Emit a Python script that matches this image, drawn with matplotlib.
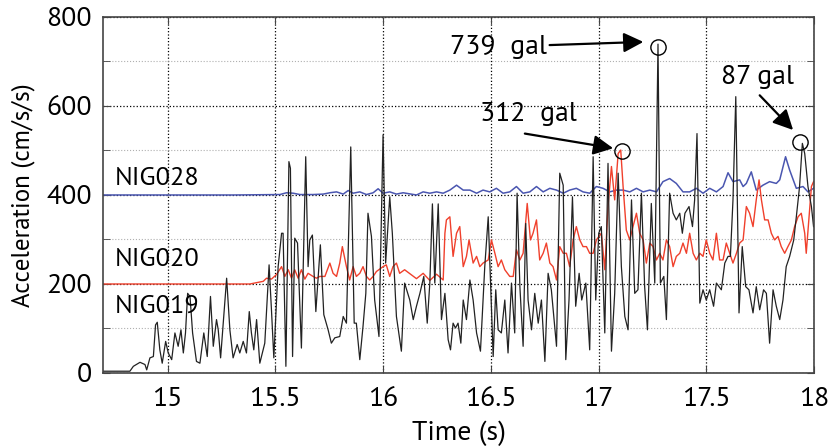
import matplotlib.pyplot as plt
import numpy as np

plt.rcParams['font.family'] = ['PT Sans', 'Lato', 'DejaVu Sans']

# NIG019 (black)
t019 = [14.702, 14.825, 14.841, 14.872, 14.895, 14.903, 14.918, 14.934, 14.944, 14.952,
        14.964, 14.975, 14.991, 15.003, 15.019, 15.034, 15.049, 15.062, 15.073, 15.083,
        15.093, 15.104, 15.116, 15.134, 15.150, 15.168, 15.184, 15.199, 15.212, 15.227,
        15.235, 15.246, 15.274, 15.289, 15.304, 15.323, 15.335, 15.351, 15.366, 15.379,
        15.389, 15.400, 15.413, 15.428, 15.451, 15.471, 15.482, 15.493, 15.513, 15.529,
        15.536, 15.549, 15.563, 15.570, 15.580, 15.590, 15.603, 15.621, 15.641, 15.652,
        15.660, 15.672, 15.688, 15.709, 15.725, 15.745, 15.760, 15.776, 15.799, 15.815,
        15.830, 15.850, 15.866, 15.876, 15.892, 15.907, 15.920, 15.930, 15.946, 15.961,
        15.981, 16.000, 16.012, 16.031, 16.043, 16.062, 16.085, 16.100, 16.124, 16.140,
        16.155, 16.171, 16.189, 16.205, 16.217, 16.229, 16.240, 16.256, 16.271, 16.287,
        16.302, 16.313, 16.325, 16.336, 16.348, 16.361, 16.372, 16.387, 16.403, 16.418,
        16.434, 16.452, 16.472, 16.488, 16.500, 16.511, 16.523, 16.534, 16.549, 16.565,
        16.580, 16.596, 16.611, 16.622, 16.635, 16.650, 16.662, 16.673, 16.689, 16.704,
        16.720, 16.735, 16.751, 16.766, 16.781, 16.805, 16.820, 16.836, 16.848, 16.863,
        16.879, 16.894, 16.910, 16.922, 16.941, 16.959, 16.975, 16.987, 17.001, 17.013,
        17.029, 17.044, 17.060, 17.075, 17.091, 17.106, 17.122, 17.137, 17.153, 17.168,
        17.183, 17.199, 17.214, 17.227, 17.245, 17.261, 17.276, 17.287, 17.303, 17.315,
        17.330, 17.346, 17.361, 17.377, 17.389, 17.401, 17.420, 17.436, 17.446, 17.457,
        17.470, 17.485, 17.500, 17.516, 17.534, 17.547, 17.570, 17.586, 17.601, 17.612,
        17.624, 17.637, 17.652, 17.667, 17.683, 17.698, 17.717, 17.732, 17.748, 17.766,
        17.779, 17.794, 17.810, 17.825, 17.841, 17.856, 17.871, 17.887, 17.906, 17.918,
        17.933, 17.946, 17.957, 17.972, 17.988, 17.998]
a019 = [4, 4, 15, 24, 19, 7, 34, 37, 108, 114,
        52, 22, 71, 45, 30, 90, 60, 97, 45, 90,
        179, 172, 90, 26, 22, 90, 37, 172, 60, 120,
        97, 34, 213, 97, 34, 64, 45, 71, 45, 138,
        90, 52, 120, 22, 67, 243, 142, 34, 239, 314,
        314, 15, 475, 460, 37, 303, 292, 56, 486, 239,
        299, 310, 138, 288, 131, 97, 67, 79, 82, 127,
        112, 508, 112, 112, 30, 105, 179, 359, 307, 164,
        82, 535, 247, 396, 314, 127, 49, 202, 164, 120,
        150, 179, 217, 112, 202, 380, 202, 380, 120, 179,
        75, 52, 112, 101, 112, 67, 164, 120, 209, 164,
        90, 49, 239, 351, 187, 37, 187, 97, 90, 164,
        45, 202, 90, 404, 194, 60, 336, 164, 97, 179,
        112, 164, 26, 224, 187, 60, 449, 422, 30, 164,
        396, 150, 224, 164, 202, 52, 486, 164, 314, 329,
        90, 471, 49, 179, 449, 239, 127, 97, 389, 179,
        187, 404, 194, 97, 381, 202, 739, 202, 217, 120,
        404, 359, 344, 359, 314, 359, 374, 329, 389, 538,
        157, 187, 164, 187, 150, 202, 187, 247, 262, 262,
        389, 621, 135, 284, 194, 187, 135, 194, 142, 187,
        179, 67, 187, 150, 120, 164, 239, 262, 299, 351,
        419, 516, 493, 419, 374, 329]

# NIG020 (red), offset +200
t020 = [14.702, 15.382, 15.444, 15.459, 15.482, 15.505, 15.529, 15.544, 15.560, 15.575,
        15.590, 15.606, 15.621, 15.637, 15.652, 15.675, 15.691, 15.706, 15.730, 15.753,
        15.768, 15.784, 15.799, 15.811, 15.830, 15.845, 15.861, 15.876, 15.892, 15.907,
        15.923, 15.938, 15.954, 15.969, 16.000, 16.015, 16.031, 16.046, 16.062, 16.077,
        16.100, 16.155, 16.186, 16.217, 16.248, 16.279, 16.287, 16.294, 16.310, 16.325,
        16.341, 16.356, 16.372, 16.387, 16.399, 16.418, 16.434, 16.449, 16.464, 16.488,
        16.503, 16.519, 16.534, 16.549, 16.565, 16.588, 16.604, 16.619, 16.635, 16.650,
        16.669, 16.684, 16.696, 16.712, 16.727, 16.743, 16.758, 16.774, 16.789, 16.805,
        16.820, 16.836, 16.851, 16.866, 16.882, 16.897, 16.913, 16.928, 16.944, 16.959,
        16.975, 16.990, 17.013, 17.029, 17.044, 17.060, 17.075, 17.091, 17.103, 17.114,
        17.129, 17.145, 17.160, 17.176, 17.191, 17.207, 17.222, 17.238, 17.253, 17.269,
        17.284, 17.299, 17.315, 17.330, 17.346, 17.361, 17.377, 17.392, 17.408, 17.423,
        17.439, 17.454, 17.470, 17.485, 17.500, 17.516, 17.531, 17.547, 17.562, 17.578,
        17.593, 17.609, 17.624, 17.640, 17.655, 17.671, 17.686, 17.701, 17.717, 17.732,
        17.745, 17.756, 17.771, 17.787, 17.802, 17.817, 17.833, 17.848, 17.864, 17.879,
        17.895, 17.910, 17.926, 17.941, 17.957, 17.964, 17.977, 17.988, 17.998]
a020 = [200, 200, 206, 213, 211, 221, 239, 217, 232, 213,
        232, 213, 232, 211, 224, 217, 213, 217, 217, 247,
        224, 217, 247, 284, 239, 209, 239, 217, 224, 239,
        217, 209, 217, 228, 239, 243, 217, 239, 247, 224,
        232, 212, 224, 208, 222, 209, 314, 344, 351, 262,
        314, 329, 239, 262, 299, 247, 262, 239, 247, 254,
        299, 269, 239, 254, 232, 217, 217, 277, 254, 269,
        381, 299, 314, 344, 254, 269, 292, 247, 239, 209,
        284, 269, 269, 239, 299, 329, 299, 284, 284, 269,
        269, 299, 314, 232, 374, 464, 389, 493, 501, 419,
        321, 299, 329, 359, 314, 299, 247, 292, 284, 254,
        269, 254, 299, 284, 239, 262, 269, 292, 269, 314,
        269, 254, 269, 262, 299, 269, 254, 314, 254, 254,
        292, 269, 247, 269, 292, 299, 374, 359, 329, 389,
        434, 389, 344, 344, 314, 299, 307, 284, 269, 284,
        299, 329, 351, 359, 314, 269, 351, 419, 430]

# NIG028 (blue), offset +400
t028 = [14.702, 15.304, 15.521, 15.552, 15.583, 15.614, 15.675, 15.722, 15.753, 15.784,
        15.815, 15.838, 15.861, 15.892, 15.923, 15.954, 15.977, 16.000, 16.031, 16.062,
        16.093, 16.155, 16.186, 16.217, 16.248, 16.279, 16.310, 16.341, 16.372, 16.403,
        16.434, 16.464, 16.495, 16.526, 16.557, 16.588, 16.619, 16.650, 16.681, 16.712,
        16.743, 16.774, 16.805, 16.836, 16.866, 16.897, 16.928, 16.959, 16.990, 17.021,
        17.052, 17.083, 17.114, 17.145, 17.176, 17.207, 17.238, 17.269, 17.299, 17.330,
        17.361, 17.392, 17.423, 17.454, 17.485, 17.516, 17.547, 17.578, 17.601, 17.624,
        17.655, 17.671, 17.686, 17.709, 17.732, 17.763, 17.794, 17.825, 17.841, 17.868,
        17.887, 17.918, 17.949, 17.972, 17.998]
a028 = [400, 400, 401, 405, 404, 401, 401, 402, 405, 407,
        402, 410, 404, 407, 401, 405, 414, 404, 407, 402,
        405, 400, 407, 404, 407, 404, 411, 422, 411, 411,
        404, 411, 407, 415, 404, 407, 419, 404, 407, 419,
        407, 415, 411, 404, 411, 415, 407, 404, 419, 415,
        407, 411, 411, 407, 415, 407, 411, 407, 430, 437,
        426, 407, 407, 415, 404, 415, 407, 419, 450, 430,
        434, 419, 426, 452, 411, 422, 430, 426, 434, 486,
        456, 415, 419, 407, 415]

# circled peaks and their labels
peak_t = [17.276, 17.109, 17.937]
peak_a = [733, 499, 520]
peak_text = ['739  gal', '312  gal', '87 gal']

fs = 20

fig = plt.figure(figsize=(8.29, 4.46), dpi=100)
ax = fig.add_axes([0.1242, 0.1637, 0.8577, 0.7982])

ax.plot(t028, a028, color='#4a56b0', lw=1.1)
ax.plot(t020, a020, color='#f0402c', lw=1.0)
ax.plot(t019, a019, color='#222222', lw=0.9)
ax.plot(peak_t, peak_a, 'o', ms=11, mfc='none', mec='black', mew=1.0)

arrow = dict(arrowstyle='-|>', color='black', lw=1.6, mutation_scale=30, shrinkA=0, shrinkB=0)
ax.annotate(peak_text[0], xy=(17.208, 744), xytext=(16.76, 733), ha='right', va='center',
            fontsize=fs, arrowprops=arrow)
ax.text(16.45, 583, peak_text[1], ha='left', va='center', fontsize=fs)
ax.annotate('', xy=(17.068, 505), xytext=(16.658, 538), arrowprops=arrow)
ax.text(17.57, 665, peak_text[2], ha='left', va='center', fontsize=fs)
ax.annotate('', xy=(17.903, 546), xytext=(17.748, 624), arrowprops=arrow)

ax.text(14.753, 437, 'NIG028', fontsize=19, va='center')
ax.text(14.753, 254, 'NIG020', fontsize=19, va='center')
ax.text(14.753, 150, 'NIG019', fontsize=19, va='center')

ax.set_xlim(14.7, 18)
ax.set_ylim(0, 800)
ax.set_xticks([15, 15.5, 16, 16.5, 17, 17.5, 18])
ax.set_xticklabels(['15', '15.5', '16', '16.5', '17', '17.5', '18'])
ax.set_yticks([0, 200, 400, 600, 800])
ax.set_yticks([100, 300, 500, 700], minor=True)
ax.tick_params(which='both', direction='in', top=True, right=True, labelsize=fs,
               color='#444444', length=5)
ax.tick_params(axis='x', pad=10)
ax.tick_params(axis='y', pad=8)
ax.grid(which='major', color='black', linestyle=':', lw=0.9)
ax.grid(which='minor', axis='y', color='#b0b0b0', linestyle=':', lw=0.8)
for s in ax.spines.values():
    s.set_color('#444444')
    s.set_linewidth(1.2)

ax.set_xlabel('Time (s)', fontsize=fs, labelpad=7)
ax.set_ylabel('Acceleration (cm/s/s)', fontsize=18, labelpad=8)

fig.savefig('out.png', dpi=100)
